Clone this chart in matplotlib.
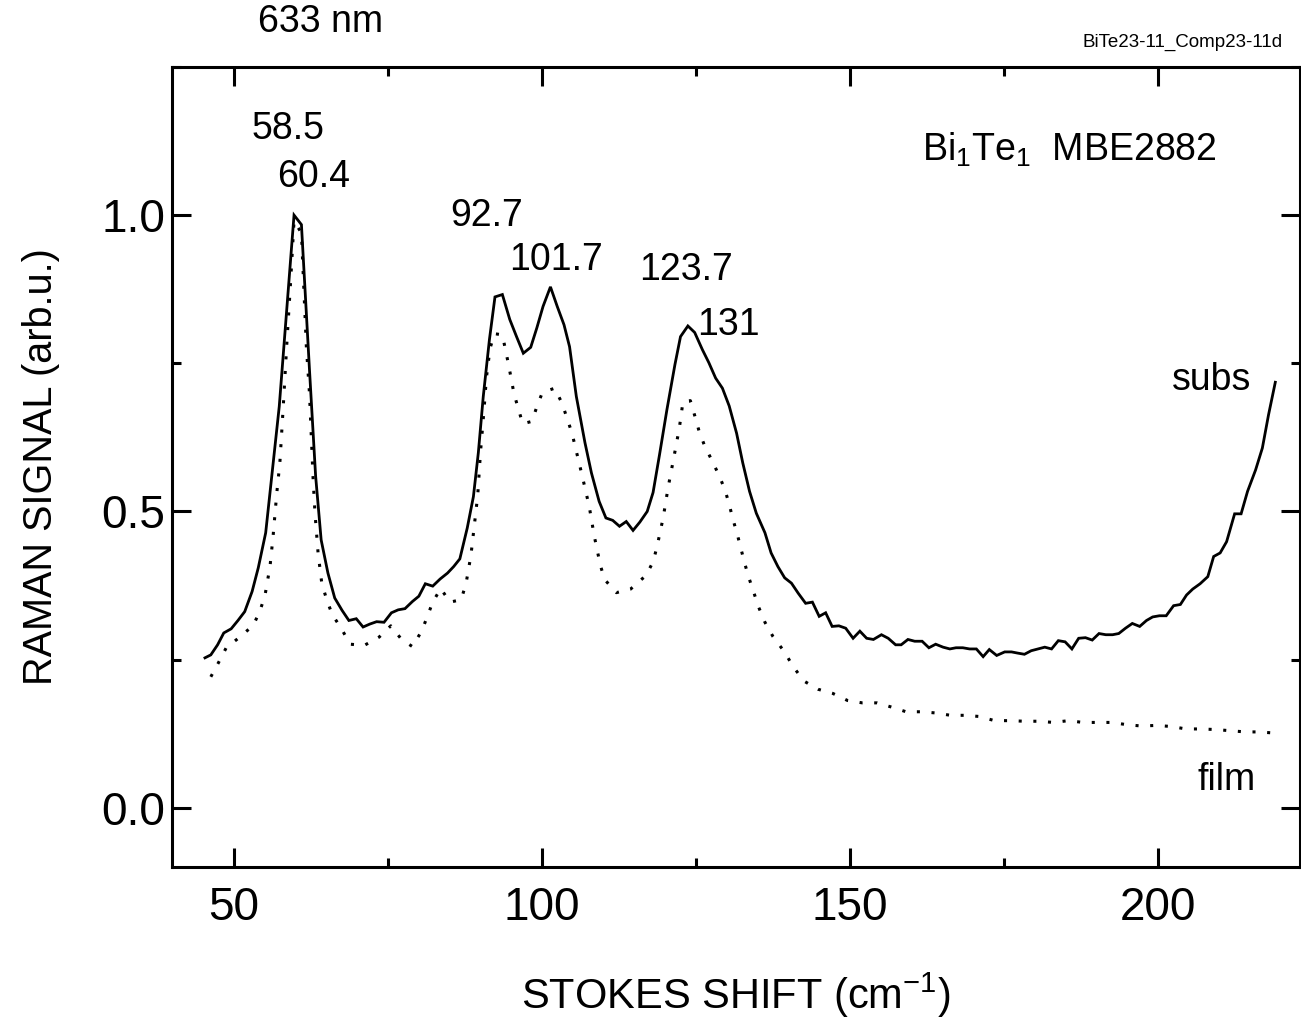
import matplotlib
matplotlib.use("Agg")
import matplotlib.pyplot as plt
from matplotlib.ticker import MultipleLocator, FormatStrFormatter

plt.rcParams['font.family'] = ['Liberation Sans', 'DejaVu Sans']
plt.rcParams['mathtext.fontset'] = 'custom'
plt.rcParams['mathtext.rm'] = 'Liberation Sans'
plt.rcParams['mathtext.it'] = 'Liberation Sans'

# ---- data (Stokes shift in cm^-1, normalized Raman signal) ----
subs_x = [45.35, 46.3, 47.4, 48.4, 49.6, 50.7, 51.8, 53.0, 54.0, 55.2, 56.3, 57.4, 58.6, 59.8,
          61.0, 62.3, 63.3, 64.2, 65.3, 66.4, 67.6, 68.7, 69.9, 71.0, 72.1, 73.2, 74.4, 75.6,
          76.7, 77.8, 79.0, 80.05, 81.1, 82.3, 83.5, 84.7, 85.7, 86.7, 87.9, 88.9, 89.7, 90.5,
          91.5, 92.4, 93.6, 94.8, 95.9, 97.0, 98.2, 99.2, 100.2, 101.4, 102.5, 103.6, 104.5,
          105.6, 107.0, 108.05, 109.3, 110.4, 111.5, 112.6, 113.7, 114.8, 115.9, 117.1, 118.05,
          119.1, 120.3, 121.6, 122.5, 123.7, 124.8, 126.05, 127.1, 128.2, 129.3, 130.4, 131.6,
          132.6, 133.7, 134.8, 136.2, 137.2, 138.3, 139.4, 140.5, 141.6, 142.8, 143.9, 145.0,
          146.05, 147.1, 148.2, 149.3, 150.5, 151.6, 152.7, 153.8, 155.1, 156.2, 157.4, 158.3,
          159.4, 160.5, 161.7, 162.8, 163.9, 165.1, 166.2, 167.2, 168.3, 169.4, 170.5, 171.6,
          172.6, 173.8, 175.1, 176.2, 177.2, 178.3, 179.4, 180.5, 181.6, 182.7, 183.8, 184.9,
          186.0, 187.1, 188.2, 189.3, 190.4, 191.5, 192.6, 193.6, 194.7, 195.8, 197.0, 198.1,
          199.1, 200.2, 201.3, 202.5, 203.6, 204.6, 205.6, 206.8, 208.05, 209.0, 210.05, 211.1,
          212.4, 213.45, 214.5, 215.8, 216.9, 217.9, 219.0]
subs_y = [0.253, 0.258, 0.275, 0.295, 0.302, 0.316, 0.331, 0.365, 0.405, 0.464, 0.570, 0.677, 0.838, 1.000,
          0.984, 0.740, 0.560, 0.452, 0.396, 0.354, 0.333, 0.316, 0.319, 0.305, 0.310, 0.314, 0.313, 0.329,
          0.334, 0.336, 0.348, 0.357, 0.378, 0.374, 0.386, 0.396, 0.407, 0.420, 0.472, 0.525, 0.599, 0.694,
          0.790, 0.862, 0.866, 0.824, 0.795, 0.767, 0.777, 0.810, 0.846, 0.879, 0.846, 0.815, 0.778,
          0.694, 0.616, 0.565, 0.517, 0.489, 0.485, 0.475, 0.483, 0.468, 0.482, 0.500, 0.532,
          0.596, 0.672, 0.748, 0.795, 0.813, 0.802, 0.773, 0.751, 0.725, 0.708, 0.678, 0.632,
          0.582, 0.534, 0.497, 0.464, 0.430, 0.407, 0.388, 0.379, 0.362, 0.345, 0.347, 0.323,
          0.329, 0.306, 0.307, 0.303, 0.286, 0.298, 0.286, 0.284, 0.292, 0.286, 0.275, 0.275,
          0.284, 0.281, 0.281, 0.270, 0.276, 0.271, 0.268, 0.270, 0.270, 0.268, 0.268, 0.255,
          0.267, 0.257, 0.263, 0.263, 0.261, 0.259, 0.265, 0.268, 0.271, 0.268, 0.282, 0.280,
          0.268, 0.286, 0.287, 0.283, 0.294, 0.292, 0.292, 0.294, 0.303, 0.311, 0.306, 0.316,
          0.322, 0.324, 0.324, 0.341, 0.343, 0.359, 0.369, 0.378, 0.390, 0.424, 0.430, 0.449,
          0.496, 0.496, 0.534, 0.570, 0.607, 0.663, 0.718]

film_x = [46.3, 47.6, 48.8, 51.0, 53.2, 54.3, 55.1, 55.9, 56.4, 57.0, 57.5, 58.05, 58.6, 59.2, 59.8,
          61.0, 61.8, 62.3, 62.9, 63.2, 63.7, 64.3, 65.1, 66.0, 67.5, 68.9, 71.2, 73.6, 75.5,
          77.25, 79.0, 80.5, 81.4, 82.3, 83.6, 85.1, 86.9, 87.7, 88.5, 89.6, 90.05, 90.65, 91.0,
          91.6, 92.3, 93.6, 94.6, 95.5, 96.9, 98.4, 99.2, 100.1, 102.1, 103.3, 104.9, 106.6,
          107.7, 108.5, 109.5, 110.2, 112.1, 114.4, 116.9, 118.05, 118.7, 119.7, 120.5, 121.4,
          122.3, 122.9, 124.1, 124.8, 125.5, 126.4, 127.6, 128.7, 129.7, 130.4, 131.0, 131.7,
          132.9, 133.6, 134.4, 135.2, 136.2, 137.5, 139.3, 140.8, 142.5, 144.8, 147.2, 149.6,
          152.0, 154.4, 156.7, 159.1, 161.6, 163.9, 166.3, 168.7, 171.0, 173.45, 175.9, 178.3,
          180.6, 183.0, 185.45, 187.8, 190.2, 192.5, 195.0, 197.3, 199.8, 202.2, 204.5, 206.9,
          209.3, 211.7, 214.1, 216.4, 218.9]
film_y = [0.221, 0.246, 0.270, 0.288, 0.308, 0.333, 0.359, 0.407, 0.458, 0.531, 0.582, 0.677, 0.778, 0.880, 0.990,
          0.970, 0.778, 0.700, 0.554, 0.497, 0.430, 0.379, 0.351, 0.326, 0.302, 0.276, 0.274, 0.288, 0.307,
          0.284, 0.272, 0.298, 0.322, 0.347, 0.370, 0.347, 0.351, 0.378, 0.426, 0.527, 0.600, 0.675, 0.725,
          0.775, 0.800, 0.798, 0.748, 0.698, 0.648, 0.652, 0.677, 0.701, 0.708, 0.682, 0.632, 0.558,
          0.508, 0.459, 0.409, 0.385, 0.363, 0.369, 0.392, 0.415, 0.441, 0.490, 0.541, 0.590,
          0.640, 0.685, 0.687, 0.662, 0.636, 0.611, 0.586, 0.562, 0.537, 0.512, 0.487, 0.462,
          0.413, 0.388, 0.363, 0.338, 0.313, 0.289, 0.264, 0.238, 0.214, 0.200, 0.193, 0.181,
          0.177, 0.177, 0.170, 0.162, 0.162, 0.160, 0.156, 0.156, 0.154, 0.147, 0.147, 0.146,
          0.146, 0.144, 0.147, 0.144, 0.144, 0.144, 0.140, 0.138, 0.139, 0.137, 0.133, 0.133,
          0.132, 0.130, 0.128, 0.128, 0.126]

peak_labels = ["58.5", "60.4", "92.7", "101.7", "123.7", "131"]
peak_label_x = [58.9, 63.0, 91.0, 102.3, 123.4, 130.2]
peak_label_y = [1.145, 1.065, 0.998, 0.925, 0.907, 0.815]

fig = plt.figure(figsize=(13.01, 10.21), dpi=100)
ax = fig.add_axes([0.1322, 0.1508, 0.8670, 0.7836])

ax.plot(subs_x, subs_y, color='black', lw=2.0, solid_joinstyle='miter')
ax.plot(film_x, film_y, color='black', lw=2.2, linestyle=(0, (1, 3.8)))

ax.set_xlim(40, 223)
ax.set_ylim(-0.1, 1.25)

ax.xaxis.set_major_locator(MultipleLocator(50))
ax.xaxis.set_minor_locator(MultipleLocator(25))
ax.yaxis.set_major_locator(MultipleLocator(0.5))
ax.yaxis.set_minor_locator(MultipleLocator(0.25))
ax.tick_params(which='both', direction='in', top=True, right=True, width=2.2,
               labelsize=33)
ax.tick_params(axis='x', pad=14)
ax.tick_params(axis='y', pad=5)
ax.tick_params(which='major', length=13.5)
ax.tick_params(which='minor', length=6.5)
ax.yaxis.set_major_formatter(FormatStrFormatter('%.1f'))
for s in ax.spines.values():
    s.set_linewidth(2.2)

ax.set_xlabel("STOKES SHIFT (cm$^{-1}$)", fontsize=30, labelpad=29)
ax.set_ylabel("RAMAN SIGNAL (arb.u.)", fontsize=28.5, labelpad=30)

for t, x, y in zip(peak_labels, peak_label_x, peak_label_y):
    ax.text(x, y, t, fontsize=27, ha='center', va='center')

ax.text(0.922, 0.609, "subs", fontsize=27, ha='center', va='center', transform=ax.transAxes)
ax.text(0.935, 0.109, "film", fontsize=27, ha='center', va='center', transform=ax.transAxes)
ax.text(0.665, 0.897, "Bi$_1$Te$_1$  MBE2882", fontsize=27, ha='left', va='center',
        transform=ax.transAxes)

fig.text(321 / 1301, 1 - 22 / 1021, "633 nm", fontsize=27, ha='center', va='center')
fig.text(1283 / 1301, 1 - 42 / 1021, "BiTe23-11_Comp23-11d", fontsize=13.5, ha='right', va='center')

fig.savefig("out.png", dpi=100)
